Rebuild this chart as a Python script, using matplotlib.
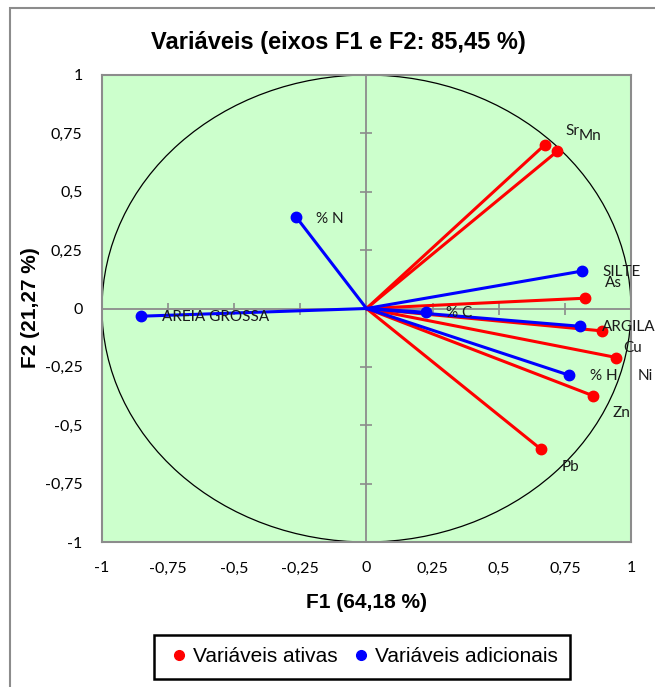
import matplotlib
matplotlib.use('Agg')
from matplotlib import pyplot as plt
from matplotlib import patches
from matplotlib.lines import Line2D

# Correlation circle data
active_names = ['Sr', 'Mn', 'As', 'Cu', 'Ni', 'Zn', 'Pb']
active_f1 = [0.673, 0.722, 0.825, 0.891, 0.945, 0.855, 0.659]
active_f2 = [0.700, 0.674, 0.044, -0.096, -0.210, -0.373, -0.602]

supp_names = ['SILTE', 'ARGILA', '% H', '% N', 'AREIA GROSSA', '% C']
supp_f1 = [0.813, 0.806, 0.767, -0.266, -0.853, 0.224]
supp_f2 = [0.160, -0.076, -0.286, 0.392, -0.033, -0.016]

ticks = [-1, -0.75, -0.5, -0.25, 0, 0.25, 0.5, 0.75, 1]

# label placement (offset in pixels, horizontal alignment)
label_pos = {
    'Sr': (28, 14, 'center'), 'Mn': (33, 15, 'center'), 'As': (29, 15, 'center'),
    'Cu': (30, -17, 'center'), 'Ni': (29, -18, 'center'), 'Zn': (29, -17, 'center'),
    'Pb': (30, -18, 'center'),
    'SILTE': (21, -1, 'left'), 'ARGILA': (22, -1, 'left'), '% H': (21, -1, 'left'),
    '% N': (20, -2, 'left'), 'AREIA GROSSA': (21, -1, 'left'), '% C': (20, -1, 'left'),
}

W, H = 655, 687
fig = plt.figure(figsize=(W / 100, H / 100), dpi=100)
ax = fig.add_axes([102 / W, 1 - 542 / H, 529 / W, 467 / H])
ax.set_facecolor('#ccffcc')
ax.set_xlim(-1, 1)
ax.set_ylim(-1, 1)

for s in ax.spines.values():
    s.set_color('#8c8c8c')
    s.set_linewidth(1.5)

calibri = ['Lato', 'DejaVu Sans']
fmt = lambda v: ('%g' % v).replace('.', ',')
ax.set_xticks(ticks)
ax.set_yticks(ticks)
ax.set_xticklabels([fmt(t) for t in ticks], family=calibri, fontsize=11.5)
ax.set_yticklabels([fmt(t) for t in ticks], family=calibri, fontsize=11.5)
ax.tick_params(length=0, pad=14)

# zero axes with crossing tick marks
ax.axhline(0, color='#8c8c8c', lw=1.3, zorder=1)
ax.axvline(0, color='#8c8c8c', lw=1.3, zorder=1)
ax.plot(ticks, [0] * len(ticks), ls='none', marker='|', ms=9, mew=1.2, color='#8c8c8c', zorder=1)
ax.plot([0] * len(ticks), ticks, ls='none', marker='_', ms=9, mew=1.2, color='#8c8c8c', zorder=1)

ax.add_patch(patches.Circle((0, 0), 1, fill=False, ec='black', lw=0.9, zorder=2))

def draw(names, xs, ys, color):
    for n, x, y in zip(names, xs, ys):
        ax.plot([0, x], [0, y], color=color, lw=2.2, zorder=3)
        ax.plot(x, y, 'o', color=color, ms=7.5, zorder=4)
        dx, dy, ha = label_pos[n]
        ax.annotate(n, (x, y), xytext=(dx * 0.72, dy * 0.72), textcoords='offset points',
                    ha=ha, va='center', family=calibri, fontsize=11, color='#1a1a1a',
                    annotation_clip=False, zorder=5)

draw(active_names, active_f1, active_f2, '#ff0000')
draw(supp_names, supp_f1, supp_f2, '#0000ff')

arial = 'Liberation Sans'
fig.text(338 / W, 1 - 43 / H, 'Variáveis (eixos F1 e F2: 85,45 %)', family=arial,
         fontweight='bold', fontsize=17, ha='center', va='center')
fig.text(366 / W, 1 - 602 / H, 'F1 (64,18 %)', family=arial, fontweight='bold',
         fontsize=15, ha='center', va='center')
fig.text(30 / W, 1 - 308 / H, 'F2 (21,27 %)', family=arial, fontweight='bold',
         fontsize=15, ha='center', va='center', rotation=90)

# outer chart border (only left and top fall inside the image)
fig.patches.append(patches.Rectangle((10 / W, -0.1), 1, 1.1 - 8 / H, transform=fig.transFigure,
                                     fill=False, ec='#8c8c8c', lw=1.5))

handles = [Line2D([], [], ls='none', marker='o', color='#ff0000', ms=7),
           Line2D([], [], ls='none', marker='o', color='#0000ff', ms=7)]
leg = fig.legend(handles, ['Variáveis ativas', 'Variáveis adicionais'], loc='center',
                 bbox_to_anchor=(362 / W, 1 - 657 / H), ncol=2, fancybox=False,
                 edgecolor='black', handlelength=1.2, handletextpad=0.05, columnspacing=0.55,
                 prop={'family': arial, 'size': 15}, borderpad=0.6, framealpha=1)
leg.get_frame().set_linewidth(1.8)

fig.savefig('out.png', dpi=100)
